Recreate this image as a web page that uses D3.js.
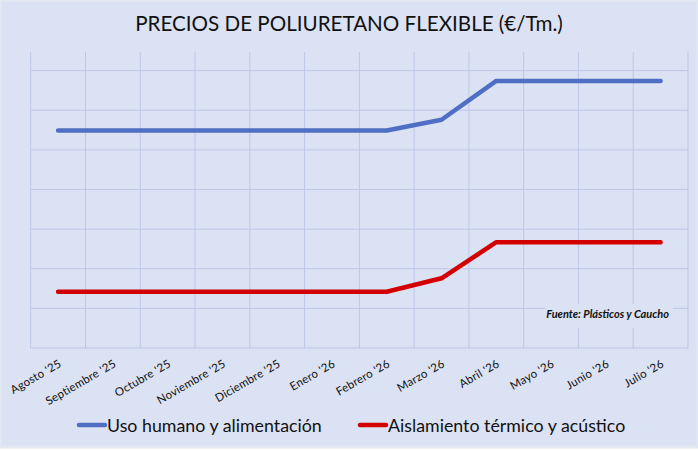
<!DOCTYPE html>
<html>
<head>
<meta charset="utf-8">
<script src="https://cdn.jsdelivr.net/npm/d3@7"></script>
<style>
  html, body { margin: 0; padding: 0; background: #ffffff; }
  svg { display: block; font-family: Lato, "Open Sans", sans-serif; }
</style>
</head>
<body>
<div id="container"></div>
<script>
const WIDTH = 698;
const HEIGHT = 450;
const PLOT = {left: 30.7, right: 688, top: 52, bottom: 348};

const TITLE = "PRECIOS DE POLIURETANO FLEXIBLE (€/Tm.)";
const SOURCE = "Fuente: Plásticos y Caucho";

const months = ["Agosto '25", "Septiembre '25", "Octubre '25", "Noviembre '25",
    "Diciembre '25", "Enero '26", "Febrero '26", "Marzo '26", "Abril '26",
    "Mayo '26", "Junio '26", "Julio '26"];

// valores (unidades relativas, sin eje visible)
const usoHumano = [549, 549, 549, 549, 549, 549, 549, 576, 674, 674, 674, 674];
const aislamiento = [142, 142, 142, 142, 142, 142, 142, 176, 267, 267, 267, 267];

const gridTicks = [0, 100, 200, 300, 400, 500, 600, 700];

const series = [
    {name: "Uso humano y alimentación", values: usoHumano, color: "#4f6fc4"},
    {name: "Aislamiento térmico y acústico", values: aislamiento, color: "#d40000"}
];

var XScale = d3.scaleBand().domain(months).range([PLOT.left, PLOT.right]).padding(0);
var YScale = d3.scaleLinear().domain([0, 747]).range([PLOT.bottom, PLOT.top]);

var LINE = d3.line()
    .x(function (d, i) { return XScale(months[i]) + XScale.bandwidth() / 2; })
    .y(function (d) { return YScale(d); });

var generateChart = function () {
    var svg = d3.select("#container").append("svg")
        .attr("width", WIDTH)
        .attr("height", HEIGHT);

    svg.append("rect")
        .attr("x", 0).attr("y", 0)
        .attr("width", WIDTH).attr("height", HEIGHT - 3)
        .attr("fill", "#dbe2f3")
        .attr("stroke", "#e4e8f2")
        .attr("stroke-width", 3);

    svg.append("text")
        .attr("x", WIDTH / 2)
        .attr("y", 31)
        .attr("text-anchor", "middle")
        .attr("font-size", 20.6)
        .attr("fill", "#111")
        .text(TITLE);

    // rejilla
    var grid = svg.append("g").attr("stroke", "#bcc7e6").attr("stroke-width", 1);
    grid.selectAll(".hgrid").data(gridTicks).enter().append("line")
        .attr("x1", PLOT.left).attr("x2", PLOT.right)
        .attr("y1", function (d) { return YScale(d); })
        .attr("y2", function (d) { return YScale(d); });
    var vticks = months.map(function (m) { return XScale(m); }).concat([PLOT.right]);
    grid.selectAll(".vgrid").data(vticks).enter().append("line")
        .attr("x1", function (d) { return d; }).attr("x2", function (d) { return d; })
        .attr("y1", PLOT.top).attr("y2", PLOT.bottom);

    // etiquetas del eje x
    var xAxis = svg.append("g")
        .attr("transform", "translate(0," + PLOT.bottom + ")")
        .call(d3.axisBottom(XScale).tickSize(0).tickPadding(0));
    xAxis.select(".domain").remove();
    xAxis.selectAll(".tick text")
        .attr("font-family", "Lato, 'Open Sans', sans-serif")
        .attr("font-size", 11.5)
        .attr("letter-spacing", 0.2)
        .attr("fill", "#111")
        .attr("text-anchor", "end")
        .attr("dy", 0)
        .attr("transform", "translate(4,18) rotate(-30)");

    // fuente
    svg.append("rect")
        .attr("x", 545).attr("y", 304)
        .attr("width", 128).attr("height", 24)
        .attr("fill", "#dbe2f3");
    svg.append("text")
        .attr("x", 669).attr("y", 318)
        .attr("text-anchor", "end")
        .attr("font-size", 11)
        .attr("font-weight", "bold")
        .attr("font-style", "italic")
        .attr("fill", "#111")
        .text(SOURCE);

    // lineas
    series.forEach(function (s) {
        svg.append("path")
            .datum(s.values)
            .attr("d", LINE)
            .attr("fill", "none")
            .attr("stroke", s.color)
            .attr("stroke-width", 4.5)
            .attr("stroke-linecap", "round")
            .attr("stroke-linejoin", "round");
    });

    // leyenda
    var legendX = [79, 360];
    var legend = svg.selectAll(".legend").data(series).enter().append("g")
        .attr("transform", function (d, i) { return "translate(" + legendX[i] + ",425)"; });
    legend.append("line")
        .attr("x1", 0).attr("x2", 26)
        .attr("stroke", function (d) { return d.color; })
        .attr("stroke-width", 4.5)
        .attr("stroke-linecap", "round");
    legend.append("text")
        .attr("x", 28).attr("y", 6.5)
        .attr("font-size", 17.8)
        .attr("fill", "#111")
        .text(function (d) { return d.name; });
};

window.onload = generateChart;
</script>
</body>
</html>
